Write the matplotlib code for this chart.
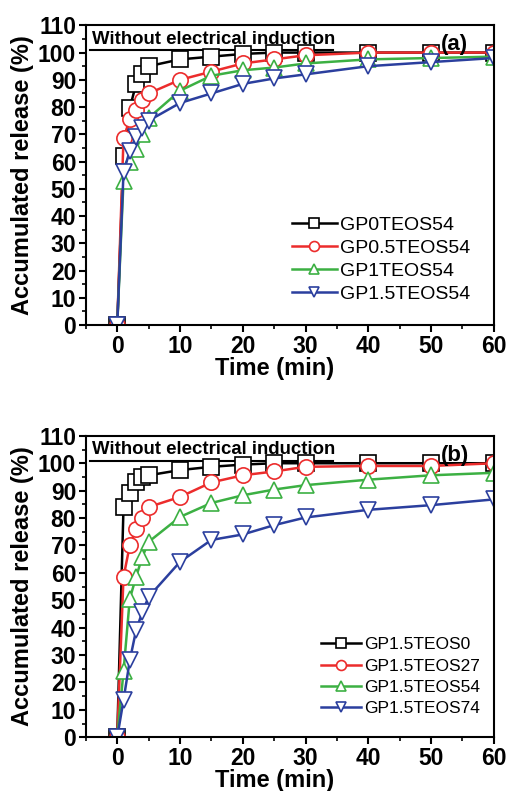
import matplotlib
matplotlib.use("Agg")
import matplotlib.pyplot as plt

plt.rcParams['font.family'] = ['Liberation Sans', 'DejaVu Sans']

time = [0, 1, 2, 3, 4, 5, 10, 15, 20, 25, 30, 40, 50, 60]

# Panel (a)
labels_a = ["GP0TEOS54", "GP0.5TEOS54", "GP1TEOS54", "GP1.5TEOS54"]
gp0_teos54 = [0, 62, 79.5, 88.5, 92, 95, 97.5, 98.5, 99.5, 100, 100, 100, 100, 100]
gp05_teos54 = [0, 68.5, 75.5, 79, 82.5, 85, 90, 93, 96, 97.5, 99, 100, 100, 100]
gp1_teos54 = [0, 53, 60, 64.5, 70, 76, 86, 91.5, 93.5, 94.5, 96, 97.5, 98, 98.5]
gp15_teos54 = [0, 56, 64, 69, 72.5, 75, 81.5, 85, 88.5, 90.5, 92, 95, 96.5, 98]

# Panel (b)
labels_b = ["GP1.5TEOS0", "GP1.5TEOS27", "GP1.5TEOS54", "GP1.5TEOS74"]
gp15_teos0 = [0, 84, 89, 93, 95, 95.6, 97.5, 98.7, 99.5, 100, 100, 100, 100, 100]
gp15_teos27 = [0, 58.5, 70, 76, 80, 84, 87.7, 93, 95.6, 97, 98.7, 99, 99, 100]
gp15_teos54b = [0, 24, 50.5, 58.5, 65.8, 71.3, 80.4, 85.5, 88.3, 90.4, 92, 94, 95.6, 96.5]
gp15_teos74 = [0, 13.5, 28, 39, 45.7, 51.2, 64, 72, 74, 77.4, 80.2, 83, 84.7, 86.8]

colors = ["#000000", "#ec2c2c", "#3cb043", "#2b3f9e"]
markers = ["s", "o", "^", "v"]

xticks = [0, 10, 20, 30, 40, 50, 60]
yticks = [0, 10, 20, 30, 40, 50, 60, 70, 80, 90, 100, 110]

fig = plt.figure(figsize=(5.08, 7.91), dpi=100)
ax_a = fig.add_axes([0.169, 0.589, 0.803, 0.379])
ax_b = fig.add_axes([0.169, 0.068, 0.803, 0.381])

panels = [
    (ax_a, [gp0_teos54, gp05_teos54, gp1_teos54, gp15_teos54], labels_a, "(a)",
     14, (1.0 - 24 / 408, 22 / 300), 0.28),
    (ax_b, [gp15_teos0, gp15_teos27, gp15_teos54b, gp15_teos74], labels_b, "(b)",
     12.5, (1.0 - 14 / 408, 21 / 301), 0.35),
]

for ax, series, labels, tag, lfs, anchor, lsp in panels:
    for vals, lab, c, m in zip(series, labels, colors, markers):
        ax.plot(time, vals, color=c, marker=m, markersize=11, markerfacecolor="white",
                markeredgecolor=c, markeredgewidth=1.2, linewidth=1.8, label=lab,
                clip_on=True, zorder=3)
    ax.set_xlim(-5, 60)
    ax.set_ylim(0, 110)
    ax.set_xticks(xticks)
    ax.set_yticks(yticks)
    ax.set_xticks([-5, 5, 15, 25, 35, 45, 55], minor=True)
    ax.set_yticks([5, 15, 25, 35, 45, 55, 65, 75, 85, 95, 105], minor=True)
    ax.tick_params(axis="both", which="major", direction="out", length=5, width=1.5,
                   labelsize=16.5, pad=2)
    ax.tick_params(axis="both", which="minor", direction="out", length=3, width=1.2)
    for lbl in ax.get_xticklabels() + ax.get_yticklabels():
        lbl.set_fontweight("bold")
    for sp in ax.spines.values():
        sp.set_linewidth(1.5)
        sp.set_zorder(4)
    ax.set_xlabel("Time (min)", fontsize=17, fontweight="bold")
    ax.xaxis.set_label_coords(0.462, -0.106, transform=ax.transAxes)
    ax.xaxis.label.set_va("top")
    ax.set_ylabel("Accumulated release (%)", fontsize=17, fontweight="bold", labelpad=3)
    ax.text(0.015, 0.925, "Without electrical induction", transform=ax.transAxes,
            fontsize=13.4, fontweight="bold", ha="left", va="bottom")
    ax.plot([0.01, 0.605], [0.918, 0.918], transform=ax.transAxes, color="black",
            linewidth=1.5, zorder=2)
    ax.text(0.87, 0.935, tag, transform=ax.transAxes, fontsize=16, fontweight="bold",
            ha="left", va="center")
    leg = ax.legend(loc="lower right", bbox_to_anchor=anchor, frameon=False,
                    fontsize=lfs, markerscale=0.65, handlelength=2.3, handletextpad=0.15,
                    labelspacing=lsp, borderaxespad=0.0, borderpad=0.0)

fig.savefig("out.png", dpi=100)
